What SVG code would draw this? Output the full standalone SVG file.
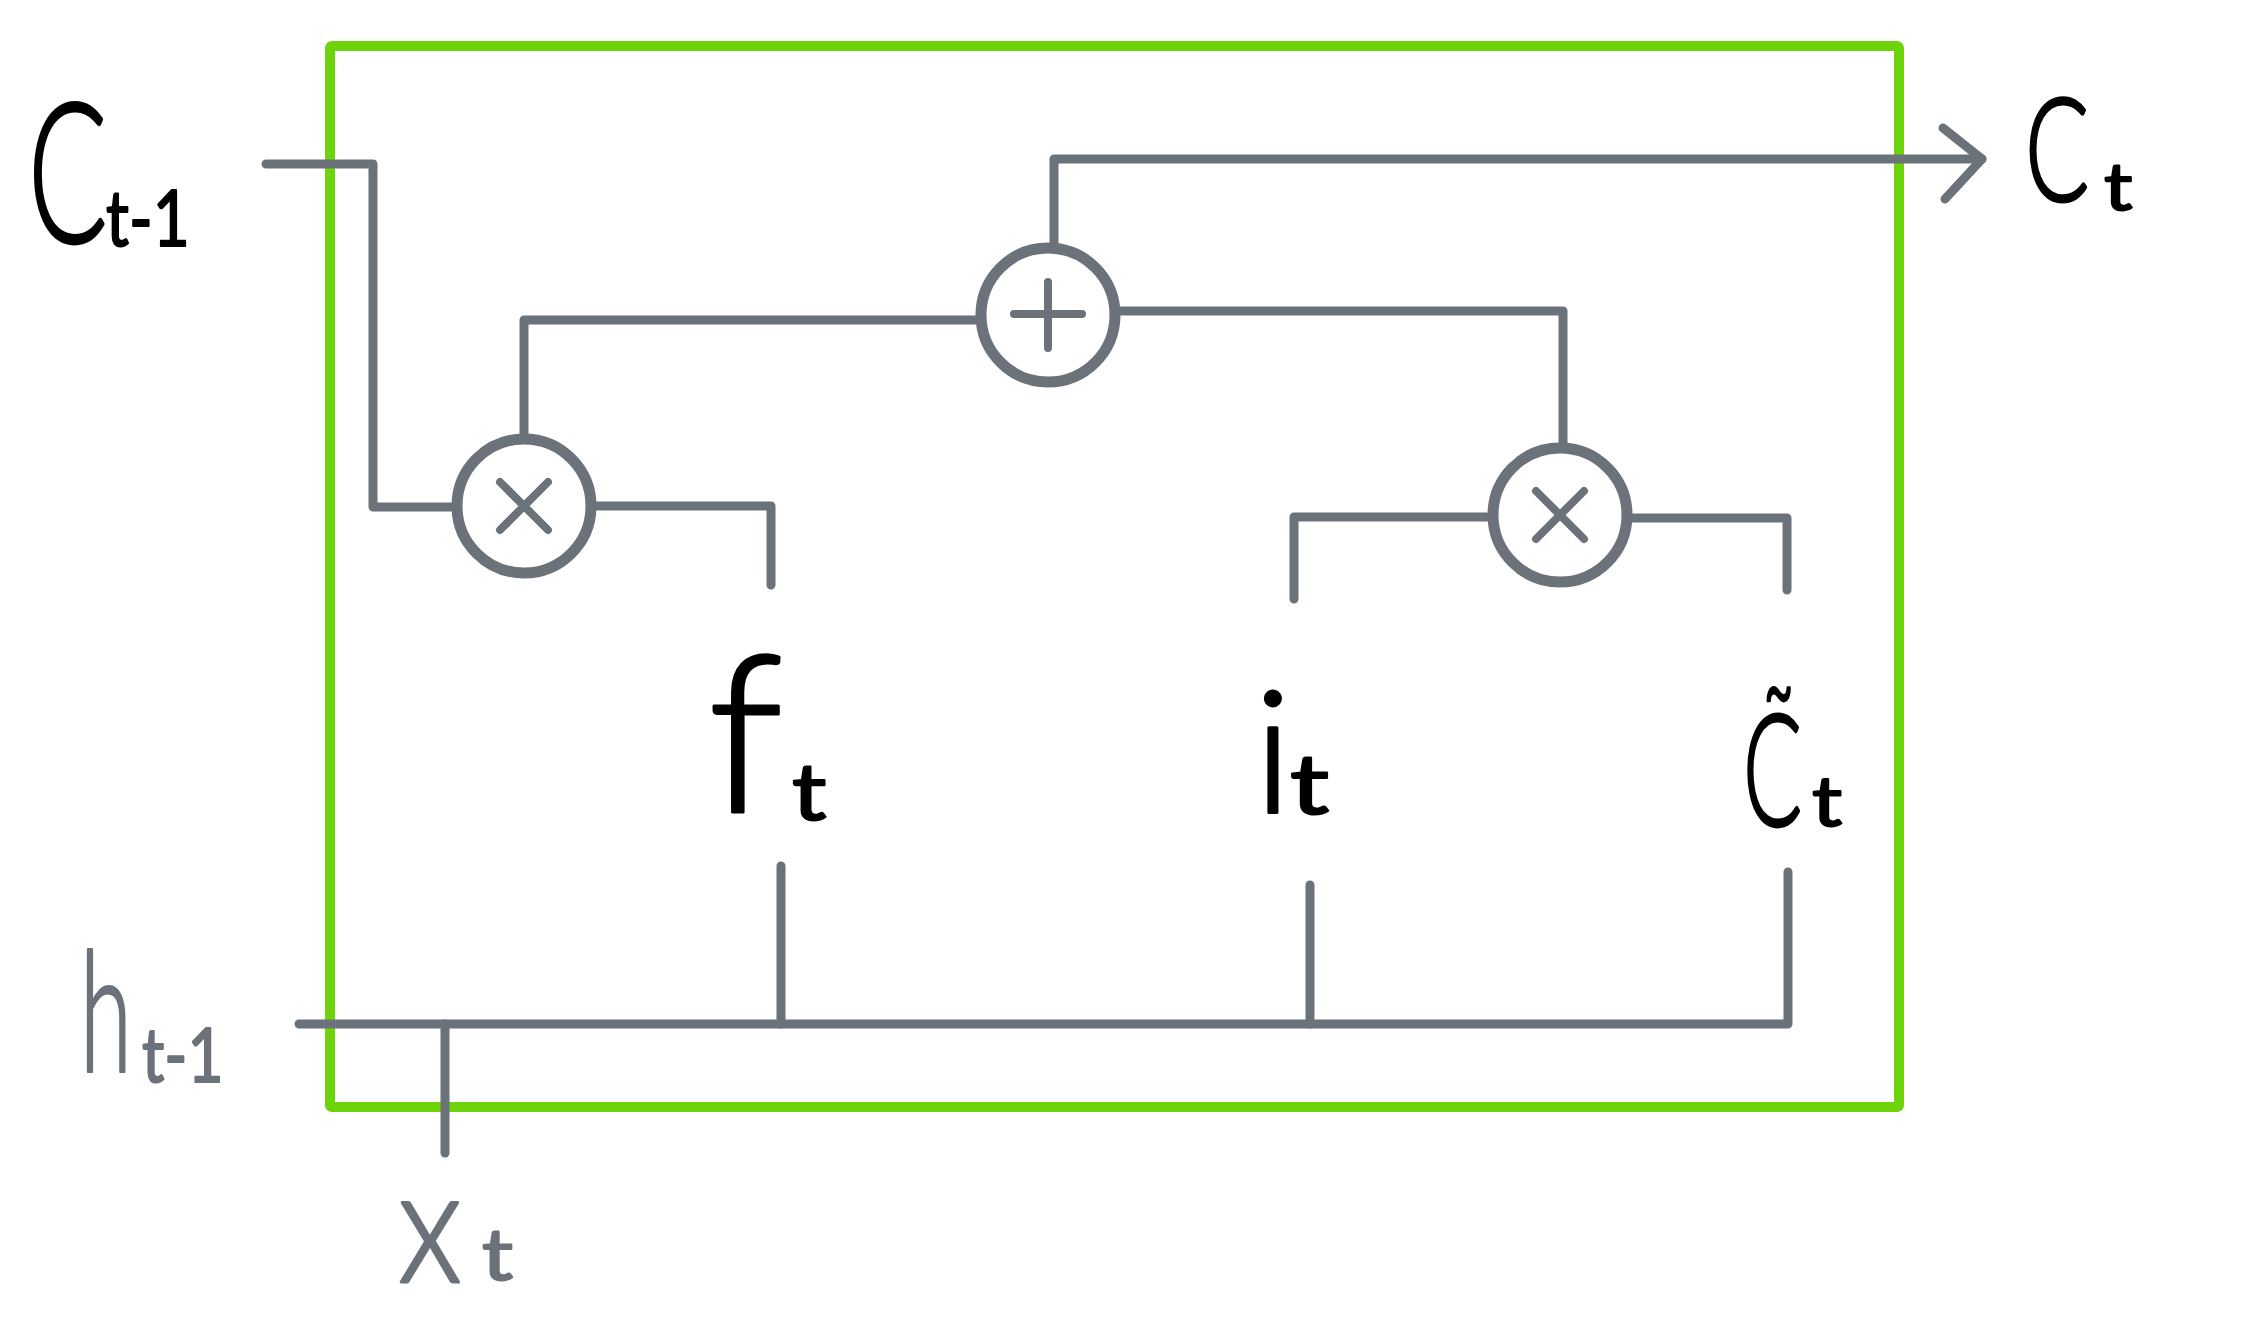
<svg xmlns="http://www.w3.org/2000/svg" width="2252" height="1344" viewBox="0 0 2252 1344">
<style>
.bg{fill:#ffffff}
.frame{fill:none;stroke:#6dd30b;stroke-width:10;stroke-linejoin:round}
.wire{fill:none;stroke:#6c7279;stroke-width:9;stroke-linecap:round;stroke-linejoin:round}
.op{fill:#ffffff;stroke:#6c7279;stroke-width:11}
.sym{fill:none;stroke:#6c7279;stroke-width:8;stroke-linecap:round}
.lbl{font-family:Lato,"Noto Sans","DejaVu Sans",sans-serif;font-weight:300;fill:#000000;stroke:#000000;stroke-width:3;stroke-linejoin:round}
.lblg{font-family:Lato,"Noto Sans","DejaVu Sans",sans-serif;font-weight:300;fill:#6c7279;stroke:#6c7279;stroke-width:3;stroke-linejoin:round}
.sub{font-weight:400;stroke-width:2}
</style>
<rect class="bg" x="0" y="0" width="2252" height="1344"/>
<rect id="cell" class="frame" x="330" y="46" width="1569" height="1061" rx="2"/>
<g id="connectors">
<path class="wire" d="M266,164 H373 V507 H456"/>
<path class="wire" d="M524,440 V320 H981"/>
<path class="wire" d="M592,506 H771 V585"/>
<path class="wire" d="M1054,248 V159 H1982"/>
<polyline class="wire" points="1943,128 1982,159 1945,199"/>
<path class="wire" d="M1116,311 H1563 V447"/>
<path class="wire" d="M1492,517 H1294 V599"/>
<path class="wire" d="M1628,518 H1787 V590"/>
<path class="wire" d="M299,1024 H1788 V872"/>
<path class="wire" d="M781,1024 V866"/>
<path class="wire" d="M1310,1024 V885"/>
<path class="wire" d="M445,1024 V1153"/>
</g>
<g id="mult-forget">
<circle class="op" cx="524" cy="506" r="67"/>
<path class="sym" d="M500,482 L548,530 M548,482 L500,530"/>
</g>
<g id="add-cell">
<circle class="op" cx="1048" cy="315" r="67"/>
<path class="sym" d="M1014,314 H1082 M1048,282 V348"/>
</g>
<g id="mult-input">
<circle class="op" cx="1560" cy="515" r="67"/>
<path class="sym" d="M1536,491 L1584,539 M1584,491 L1536,539"/>
</g>
<g id="label-c-prev">
<text class="lbl" transform="translate(28,242) scale(0.6,1)" font-size="196">C</text>
<text class="lbl sub" transform="translate(106,246) scale(0.82,1)" font-size="78">t-1</text>
</g>
<g id="label-c-t">
<text class="lbl" transform="translate(2025,201) scale(0.66,1)" font-size="144">C</text>
<text class="lbl sub" transform="translate(2104,210) scale(1.2,1)" font-size="66">t</text>
</g>
<g id="label-f">
<text class="lbl" x="708" y="812" font-size="220">f</text>
<text class="lbl sub" transform="translate(792,820) scale(1.2,1)" font-size="80">t</text>
</g>
<g id="label-i">
<text class="lbl" x="1254" y="812" font-size="170">i</text>
<text class="lbl sub" transform="translate(1290,814) scale(1.3,1)" font-size="84">t</text>
</g>
<g id="label-c-tilde">
<text class="lbl" transform="translate(1743,826) scale(0.56,1)" font-size="156">C̃</text>
<text class="lbl sub" transform="translate(1812,826) scale(1.2,1)" font-size="70">t</text>
</g>
<g id="label-h">
<text class="lblg" transform="translate(80,1072) scale(0.56,1)" font-size="168">h</text>
<text class="lblg sub" transform="translate(142,1082) scale(0.82,1)" font-size="76">t-1</text>
</g>
<g id="label-x">
<text class="lblg" transform="translate(398,1282) scale(0.85,1)" font-size="160">x</text>
<text class="lblg sub" transform="translate(482,1280) scale(1.2,1)" font-size="72">t</text>
</g>
</svg>
